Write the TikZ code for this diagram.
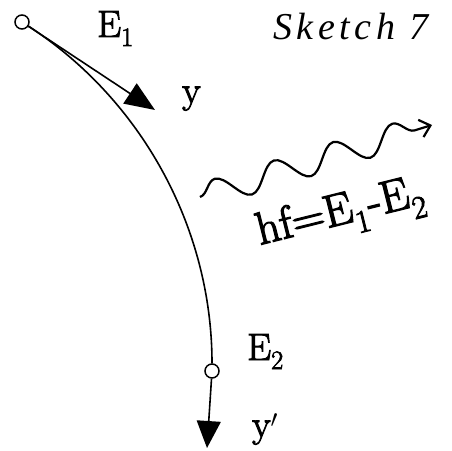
\documentclass[tikz,border=0pt]{standalone}
\usepackage{fontspec}
\newfontfamily\tagfont[FakeBold=2.5]{Latin Modern Roman}
\newfontfamily\sketchfont[LetterSpace=12]{Liberation Serif}
\usetikzlibrary{arrows.meta, positioning, decorations.pathmorphing}

\begin{document}
\begin{tikzpicture}[x=1pt, y=1pt,
  level/.style={circle, draw, fill=white, line width=1.5pt,
    minimum size=14pt, inner sep=0pt},
  tag/.style={font=\tagfont\fontsize{38}{40}\selectfont, inner sep=0pt,
    anchor=base west},
  ray/.style={line width=1.6pt, -{Triangle[length=#1, width=24pt]}},
  ray/.default=30pt,
]
  \useasboundingbox (0,0) rectangle (452,450);

  % the two levels and the free ends
  \node[level] (e1) at (22,428) {};
  \node[level] (e2) at (212,79) {};
  \coordinate (ytip) at (155,340);
  \coordinate (yptip) at (207,2);
  \coordinate (wstart) at (200,253);
  \coordinate (wend) at (432,325);

  \draw[line width=1.6pt] (e1) to[out=-33, in=90, looseness=0.9] (e2);
  \draw[ray] (e1) -- (ytip);
  \draw[ray=27pt] (e2) -- (yptip);

  % emitted photon
  \draw[line width=2.2pt, -{Straight Barb[length=10pt, width=18pt]},
    decorate, decoration={snake, amplitude=13pt, segment length=62pt,
      post length=10pt}] (wstart) -- (wend);

  \node[tag] (lE1) at (97,413) {E\textsubscript{1}};
  \node[tag] (ly) at (182,347) {y};
  \node[tag] (lE2) at (247,90) {E\textsubscript{2}};
  \node[tag] (lyp) at (252,13) {y$'$};
  \node[tag, font=\tagfont\fontsize{46}{48}\selectfont, rotate=14]
    (lhf) at (260,205) {hf=E\textsubscript{1}-E\textsubscript{2}};
  \node[tag, font=\sketchfont\fontsize{38}{40}\itshape] (lsk) at (273,410) {Sketch 7};
\end{tikzpicture}
\end{document}
